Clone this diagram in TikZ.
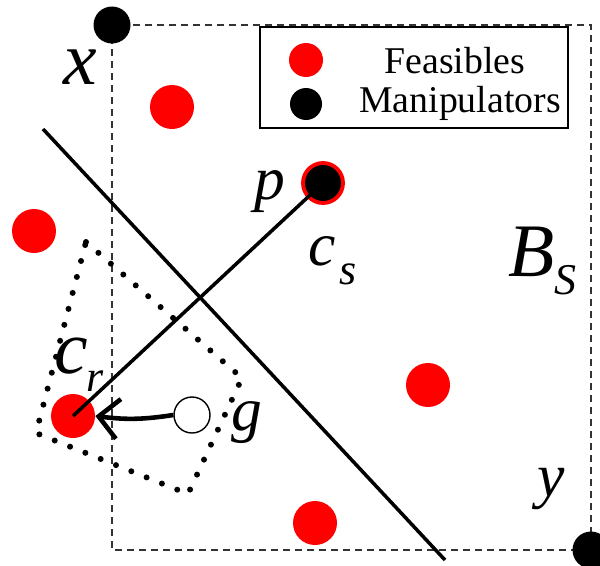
\documentclass[tikz,border=0pt]{standalone}
\usepackage{fontspec}
\setmainfont{Liberation Serif}
\usetikzlibrary{arrows.meta, positioning}
\definecolor{fsred}{HTML}{FF0000}

\begin{document}
\begin{tikzpicture}[x=0.2mm, y=-0.2mm,
  corner/.style={circle, fill=black, inner sep=0pt, minimum size=7.4mm},
  feasible/.style={circle, fill=fsred, inner sep=0pt, minimum size=8.8mm},
  manip/.style={circle, fill=black, draw=fsred, line width=2.2pt, inner sep=0pt, minimum size=8mm},
  goal/.style={circle, fill=white, draw=black, line width=0.8pt, inner sep=0pt, minimum size=7.2mm},
  legendbox/.style={rectangle, draw=black, line width=0.8pt, minimum width=61.6mm, minimum height=20.2mm},
  legtext/.style={font=\fontsize{21.5}{24}\selectfont, inner sep=0pt},
  lblA/.style={font=\fontsize{43}{46}\selectfont\itshape, inner sep=0pt},
  lblB/.style={font=\fontsize{35}{38}\selectfont\itshape, inner sep=0pt},
  lblsub/.style={font=\fontsize{25}{28}\selectfont\itshape, inner sep=0pt},
  bound/.style={dashed, dash pattern=on 1.4mm off 1mm, line width=0.8pt, black!80},
  solidline/.style={line width=2pt},
  dotpoly/.style={line width=1.2mm, line cap=round, dash pattern=on 0pt off 3.3mm},
  arr/.style={-{Straight Barb[length=4mm, width=8mm]}, line width=2.6pt},
]
  \useasboundingbox (0,0) rectangle (600,565);

  % Box B_S
  \coordinate (tl) at (112,25);
  \coordinate (br) at (591,550);
  \draw[bound] (tl) rectangle (br);

  % Legend
  \node[legendbox] (legend) at (414,77.5) {};
  \node[circle, fill=fsred, inner sep=0pt, minimum size=6.8mm] (legred) at (306,60) {};
  \node[circle, fill=black, inner sep=0pt, minimum size=6.4mm] (legblack) at (306,104) {};
  \node[legtext] (legfeas) at (455,61) {Feasibles};
  \node[legtext] (legman) at (460,103) {Manipulators};

  % Separating line
  \coordinate (sepA) at (43,129);
  \coordinate (sepB) at (445,560);
  \draw[solidline] (sepA) -- (sepB);

  % Dotted region around c_r
  \draw[dotpoly] (86,242) -- (242,378) -- (188,494) -- (36,433) -- cycle;

  % Points
  \node[corner] (xdot) at (tl) {};
  \node[corner] (ydot) at (br) {};
  \node[feasible] (f1) at (172,107) {};
  \node[feasible] (f2) at (34,231) {};
  \node[feasible] (f3) at (428,385) {};
  \node[feasible] (f4) at (315,523) {};
  \node[feasible] (cr) at (73,416) {};
  \node[manip] (p) at (323,183) {};
  \node[goal] (g) at (192,415) {};

  \draw[solidline] (p.center) -- (cr.center);
  \draw[arr] (g.west) to[bend left=8] (cr.east);

  % Labels
  \node[lblA] (xlbl) at (80,67) {x};
  \node[lblB] (plbl) at (270,192) {p};
  \node[lblB] (cslbl) at (322,251) {c};
  \node[lblsub] (cssub) at (348,274) {s};
  \node[lblA] (bslbl) at (532,252) {B};
  \node[lblsub] (bssub) at (565,280) {S};
  \node[lblA] (crlbl) at (71,356) {c};
  \node[lblsub] (crsub) at (95,381) {r};
  \node[lblB] (glbl) at (247,423) {g};
  \node[lblB] (ylbl) at (551,489) {y};
\end{tikzpicture}
\end{document}
